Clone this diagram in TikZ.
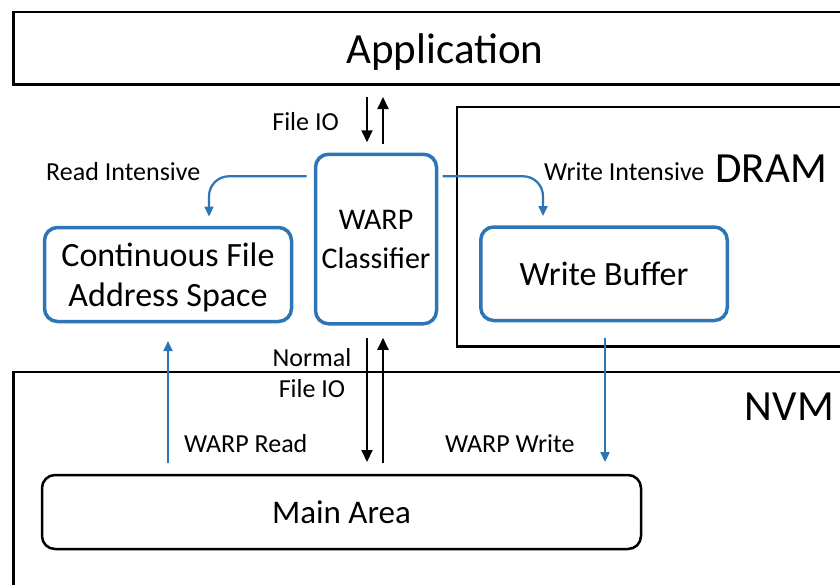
\documentclass[tikz,border=0pt]{standalone}
\usepackage{fontspec}
\setmainfont{Carlito}
\usetikzlibrary{arrows.meta}
\usetikzlibrary{positioning}

\definecolor{warpblue}{RGB}{46,117,182}

\tikzset{
  layer/.style = {draw, line width=2.75pt, inner sep=0pt, outer sep=0pt},
  bluebox/.style = {draw=warpblue, line width=3.5pt, rounded corners=13pt,
                    align=center, inner sep=0pt, outer sep=0pt},
  areabox/.style = {draw, line width=2.5pt, rounded corners=13pt,
                    inner sep=0pt, outer sep=0pt, font=\fontsize{33}{40}\selectfont},
  flow/.style = {-{Triangle[length=12pt,width=11pt]}, line width=2pt},
  blueflow/.style = {-{Triangle[length=10pt,width=9pt]}, draw=warpblue,
                     line width=2.25pt, rounded corners=20pt},
  lbl/.style = {inner sep=0pt, font=\fontsize{26}{31}\selectfont},
  biglbl/.style = {inner sep=0pt, font=\fontsize{43}{50}\selectfont}
}

\begin{document}
\begin{tikzpicture}[x=1pt, y=-1pt]
    \clip (0,0) rectangle (840,584);

    % layers
    \node[layer, minimum width=863pt, minimum height=72.5pt,
          font=\fontsize{43}{50}\selectfont, text height=30pt, text depth=0pt]
          (app) at (445,48.25) {Application};
    \node[layer, minimum width=443pt, minimum height=239.5pt] (dram) at (678.5,226.75) {};
    \node[layer, minimum width=886.5pt, minimum height=248pt] (nvm) at (456.75,496) {};
    \node[biglbl, anchor=base east] (dramlbl) at (827,182) {DRAM};
    \node[biglbl, anchor=base east] (nvmlbl) at (834,420) {NVM};

    % boxes
    \node[bluebox, minimum width=121pt, minimum height=169.5pt,
          font=\fontsize{30}{39}\selectfont] (classifier) at (376,239) {WARP\\Classifier};
    \node[bluebox, minimum width=247pt, minimum height=94pt, text depth=0pt,
          font=\fontsize{34}{40}\selectfont] (cfas) at (168,274.5) {Continuous File\\Address Space};
    \node[bluebox, minimum width=246.5pt, minimum height=93.5pt,
          font=\fontsize{34}{40}\selectfont] (wbuf) at (604,273.75) {Write Buffer};
    \node[areabox, minimum width=599pt, minimum height=74pt] (mainarea) at (341.5,512) {Main Area};

    % file IO between application and classifier
    \coordinate (dn) at ([xshift=-9pt]classifier.north);
    \coordinate (up) at ([xshift=7pt]classifier.north);
    \draw[flow, shorten <=12.5pt, shorten >=12pt] (dn |- app.south) -- (dn);
    \draw[flow, shorten <=10pt, shorten >=12.5pt] (up) -- (up |- app.south);
    \node[lbl, anchor=base east] (fileio) at (339,130) {File IO};

    % classifier outputs
    \coordinate (rdstart) at ([shift={(-9,22)}]classifier.north west);
    \coordinate (rdend) at ([xshift=41pt]cfas.north);
    \draw[blueflow, shorten >=11pt] (rdstart) -| (rdend);
    \coordinate (wrstart) at ([shift={(6,22)}]classifier.north east);
    \coordinate (wrend) at ([xshift=-61pt]wbuf.north);
    \draw[blueflow, shorten >=11pt] (wrstart) -| (wrend);
    \node[lbl, anchor=base west] (readint) at (46,180) {Read Intensive};
    \node[lbl, anchor=base west] (writeint) at (544,180) {Write Intensive};

    % normal file IO
    \coordinate (ndn) at ([xshift=-9pt]classifier.south);
    \coordinate (nup) at ([xshift=7pt]classifier.south);
    \draw[flow, shorten <=14pt, shorten >=13pt] (ndn) -- (ndn |- mainarea.north);
    \draw[flow, shorten <=12pt, shorten >=14pt] (nup |- mainarea.north) -- (nup);
    \node[lbl, align=center] (normalio) at (312,373) {Normal\\File IO};

    % WARP read / write
    \draw[flow, draw=warpblue, line width=2.25pt, -{Triangle[length=10pt,width=9pt]},
          shorten <=12pt, shorten >=19.5pt] (cfas.south |- mainarea.north) -- (cfas.south);
    \coordinate (wwtop) at ([xshift=1pt]wbuf.south);
    \draw[flow, draw=warpblue, line width=2.25pt, -{Triangle[length=10pt,width=9pt]},
          shorten <=17.5pt, shorten >=13pt] (wwtop) -- (wwtop |- mainarea.north);
    \node[lbl, anchor=base west] (warpread) at (184,452) {WARP Read};
    \node[lbl, anchor=base west] (warpwrite) at (445,452) {WARP Write};
\end{tikzpicture}
\end{document}
